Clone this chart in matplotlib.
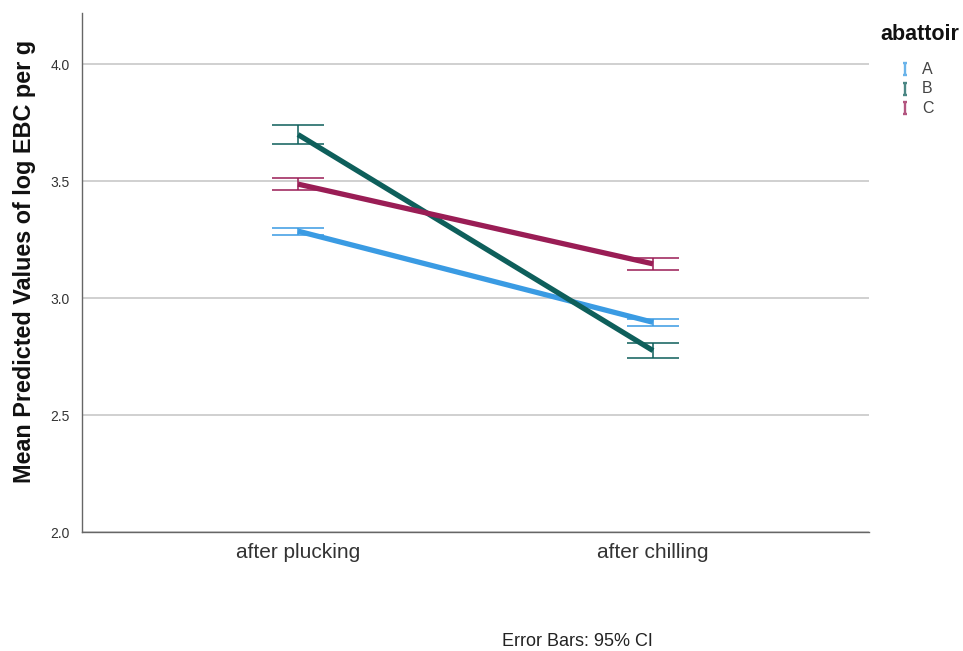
import matplotlib.pyplot as plt
from matplotlib.lines import Line2D
from matplotlib.path import Path

plt.rcParams['font.family'] = ['Liberation Sans', 'DejaVu Sans']

# estimated marginal means of log EBC per g, with 95% CI bounds
stages = ['after plucking', 'after chilling']
abattoirs = ['A', 'B', 'C']
means = {
    'A': [3.287, 2.897],
    'B': [3.700, 2.776],
    'C': [3.488, 3.147],
}
ci_low = {
    'A': [3.272, 2.882],
    'B': [3.661, 2.745],
    'C': [3.462, 3.120],
}
ci_high = {
    'A': [3.302, 2.913],
    'B': [3.742, 2.807],
    'C': [3.514, 3.174],
}
colors = {'A': '#3a9be3', 'B': '#0e5f5b', 'C': '#9a1d55'}

fig = plt.figure(figsize=(9.63, 6.51), dpi=100)
ax = fig.add_axes([82 / 963, 1 - 532 / 651, 787 / 963, 519 / 651])

x = list(range(len(stages)))
for ab in abattoirs:
    c = colors[ab]
    ax.plot(x, means[ab], color=c, lw=3.8, solid_capstyle='butt', zorder=3)
    lo = [m - l for m, l in zip(means[ab], ci_low[ab])]
    hi = [h - m for m, h in zip(means[ab], ci_high[ab])]
    ax.errorbar(x, means[ab], yerr=[lo, hi], fmt='none', ecolor=c, elinewidth=1.3,
                capsize=19, capthick=1.3, alpha=0.85, zorder=2)

ax.set_xlim(-216 / 355, 1 + 216 / 355)
ax.set_ylim(2.0, 4.22)
ax.set_yticks([2.0, 2.5, 3.0, 3.5, 4.0])
ax.set_yticklabels(['2.0', '2.5', '3.0', '3.5', '4.0'])
ax.set_xticks(x)
ax.set_xticklabels(stages)
ax.tick_params(axis='y', length=0, labelsize=10, labelcolor='#333333', pad=9)
ax.tick_params(axis='x', length=0, labelsize=15, labelcolor='#333333', pad=8)
ax.grid(axis='y', color='#c8c8c8', lw=1.2, zorder=0)
ax.set_axisbelow(True)
for s in ['top', 'right']:
    ax.spines[s].set_visible(False)
for s in ['left', 'bottom']:
    ax.spines[s].set_color('#666666')
    ax.spines[s].set_linewidth(1.0)

ax.set_ylabel('Mean Predicted Values of log EBC per g', fontsize=16.8, fontweight='bold',
              color='#111111')
ax.yaxis.set_label_coords(-0.059, 0.521)

# legend: title, then an error-bar glyph and letter per abattoir
fig.text(880 / 963, 1 - 35 / 651, 'abattoir', ha='left', va='center',
         fontsize=15.5, fontweight='bold', color='#111111')
ibar = Path([(-0.35, -1), (0.35, -1), (0, -1), (0, 1), (-0.35, 1), (0.35, 1)],
            [Path.MOVETO, Path.LINETO, Path.MOVETO, Path.LINETO, Path.MOVETO, Path.LINETO])
step = 19.6
for i, ab in enumerate(abattoirs):
    yy = 1 - (69 + step * i) / 651
    fig.add_artist(Line2D([905 / 963], [yy], transform=fig.transFigure, ls='none',
                          marker=ibar, markersize=8.5, markeredgewidth=1.7,
                          markeredgecolor=colors[ab], alpha=0.75))
    fig.text(922 / 963, yy, ab, ha='left', va='center', fontsize=11.5, color='#444444')

fig.text(577 / 963, 1 - 641 / 651, 'Error Bars: 95% CI', ha='center', va='center',
         fontsize=13, color='#222222')

fig.savefig('out.png', dpi=100)
